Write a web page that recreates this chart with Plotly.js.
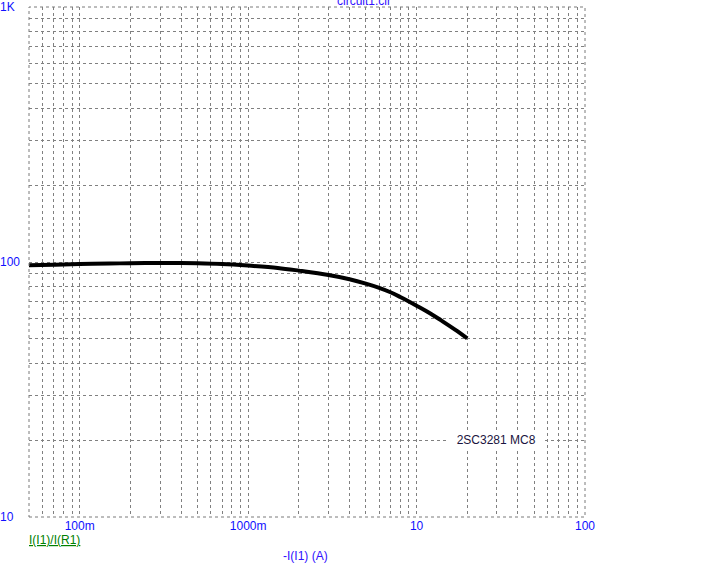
<!DOCTYPE html>
<html>
<head>
<meta charset="utf-8">
<script src="https://cdn.plot.ly/plotly-3.0.1.min.js"></script>
<style>html,body{margin:0;padding:0;background:#fff;}#chart{width:717px;height:565px;}</style>
</head>
<body>
<div id="chart"></div>
<script>
// Data (log-log)
const currentA = [0.05, 0.07, 0.1, 0.15, 0.2, 0.3, 0.4, 0.5, 0.7, 1, 1.5, 2, 3, 4, 5, 6, 7, 8, 10, 12, 14, 17, 20];
const gainHFE  = [97.1, 97.6, 98.1, 98.6, 98.9, 99.1, 99.1, 98.9, 98.2, 96.8, 94.8, 92.5, 88.9, 85.6, 82.3, 79.2, 76.1, 72.9, 67.4, 63.0, 59.0, 54.2, 50.2];

const xGridVals = [0.05,0.06,0.07,0.08,0.09,0.1,0.2,0.3,0.4,0.5,0.6,0.7,0.8,0.9,1,2,3,4,5,6,7,8,9,10,20,30,40,50,60,70,80,90,100];
const xLabelMap = {0.1:"100m", 1:"1000m", 10:"10", 100:"100"};
const yGridVals = [10,20,30,40,50,60,70,80,90,100,200,300,400,500,600,700,800,900,1000];
const yLabelVals = [10, 100, 1000];
const yLabelText = ["10", "100", "1K"];

const seriesName = "2SC3281 MC8";
const xTitle = "-I(I1) (A)";
const yExpr = "I(I1)/I(R1)";
const fileTitle = "circuit1.cir";

const xTickText = xGridVals.map(v => xLabelMap[v] || "");

const FONT = "Liberation Sans, Arial, sans-serif";
const gridStyle = {color: "#808080", dash: "3px,3px"};

const trace = {
  x: currentA, y: gainHFE, type: "scatter", mode: "lines",
  line: {color: "#000000", width: 4, shape: "spline", smoothing: 1}, hoverinfo: "skip", showlegend: false
};

const annotations = [];
yLabelVals.forEach((v, i) => {
  annotations.push({
    xref: "paper", yref: "y", x: -0.055, y: Math.log10(v),
    xanchor: "left", yanchor: "middle", showarrow: false,
    text: yLabelText[i], font: {family: FONT, size: 12, color: "#1010ff"}
  });
});
annotations.push({
  xref: "paper", yref: "paper", x: -0.004, y: -0.0455, xanchor: "left", yanchor: "middle",
  showarrow: false, text: "<u>" + yExpr + "</u>", font: {family: FONT, size: 12, color: "#008000"}
});
annotations.push({
  xref: "paper", yref: "paper", x: 0.497, y: -0.077, xanchor: "center", yanchor: "middle",
  showarrow: false, text: xTitle, font: {family: FONT, size: 12, color: "#3010ff"}
});
annotations.push({
  xref: "paper", yref: "paper", x: 0.6025, y: 1.012, xanchor: "center", yanchor: "middle",
  showarrow: false, text: fileTitle, font: {family: FONT, size: 12, color: "#3010ff"}
});
annotations.push({
  xref: "x", yref: "y", x: Math.log10(29.8), y: Math.log10(20), xanchor: "center", yanchor: "middle",
  showarrow: false, text: "\u00A0\u00A0" + seriesName + "\u00A0\u00A0", bgcolor: "#ffffff", borderpad: 1,
  font: {family: FONT, size: 12, color: "#1a1440"}
});

const layout = {
  width: 717, height: 565,
  margin: {l: 29, r: 132, t: 7, b: 48, pad: 0},
  paper_bgcolor: "#ffffff", plot_bgcolor: "#ffffff",
  showlegend: false,
  xaxis: {
    type: "log", range: [Math.log10(0.05), 2],
    tickmode: "array", tickvals: xGridVals, ticktext: xTickText,
    ticks: "", showline: false, zeroline: false,
    showgrid: true, gridcolor: gridStyle.color, griddash: gridStyle.dash, gridwidth: 1,
    tickfont: {family: FONT, size: 12, color: "#1010ff"}
  },
  yaxis: {
    type: "log", range: [1, 3],
    tickmode: "array", tickvals: yGridVals, showticklabels: false,
    ticks: "", showline: false, zeroline: false,
    showgrid: true, gridcolor: gridStyle.color, griddash: gridStyle.dash, gridwidth: 1
  },
  shapes: [{
    type: "rect", xref: "paper", yref: "paper", x0: 0, x1: 1, y0: 0, y1: 1,
    line: {color: "#7a7a7a", width: 1, dash: "dot"}, layer: "above"
  }],
  annotations: annotations
};

Plotly.newPlot("chart", [trace], layout, {staticPlot: true, displayModeBar: false});
</script>
</body>
</html>
